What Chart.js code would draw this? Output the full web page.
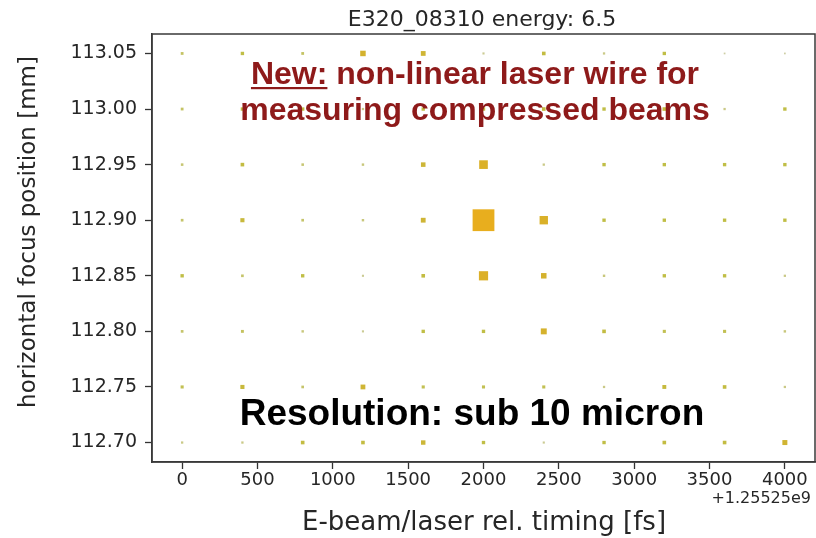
<!DOCTYPE html>
<html>
<head>
<meta charset="utf-8">
<script src="https://cdn.jsdelivr.net/npm/chart.js@4.4.1/dist/chart.umd.min.js"></script>
<style>
html,body{margin:0;padding:0;background:#fff;}
#wrap{width:816px;height:538px;position:relative;}
</style>
</head>
<body>
<div id="wrap"><canvas id="c" width="816" height="538"></canvas></div>
<script>
// ---- data ----
const titleText = "E320_08310 energy: 6.5";
const xLabel = "E-beam/laser rel. timing [fs]";
const yLabel = "horizontal focus position [mm]";
const xOffsetText = "+1.25525e9";
const xTimes = [0, 400, 800, 1200, 1600, 2000, 2400, 2800, 3200, 3600, 4000];
const yPositions = [113.05, 113.00, 112.95, 112.90, 112.85, 112.80, 112.75, 112.70];
const xTickValues = [0, 500, 1000, 1500, 2000, 2500, 3000, 3500, 4000];
const yTickValues = [112.70, 112.75, 112.80, 112.85, 112.90, 112.95, 113.00, 113.05];
// signal per row (one value per timing step), top row first
const sig_113_05 = [0.9, 1.5, 0.9, 5.0, 3.6, 0.4, 1.8, 0.5, 1.5, 0.2, 0.2];
const sig_113_00 = [0.9, 1.5, 1.5, 0.5, 1.5, 1.5, 1.8, 1.5, 1.8, 0.5, 1.5];
const sig_112_95 = [0.7, 1.8, 0.7, 0.6, 3.2, 14, 0.5, 1.5, 1.5, 1.5, 1.5];
const sig_112_90 = [0.8, 2.5, 0.8, 0.6, 3.6, 100, 13, 1.5, 1.5, 1.5, 1.5];
const sig_112_85 = [1.5, 0.8, 1.5, 0.4, 1.8, 16, 5.0, 0.6, 1.5, 1.5, 0.5];
const sig_112_80 = [0.8, 1.0, 0.6, 0.4, 1.5, 1.5, 6.0, 1.8, 1.2, 1.2, 0.6];
const sig_112_75 = [1.2, 2.5, 0.8, 3.6, 1.2, 1.2, 1.2, 0.5, 2.2, 1.8, 0.5];
const sig_112_70 = [0.5, 0.5, 1.8, 1.8, 3.0, 1.5, 0.4, 1.5, 1.8, 1.8, 4.0];
const signalRows = [sig_113_05, sig_113_00, sig_112_95, sig_112_90, sig_112_85, sig_112_80, sig_112_75, sig_112_70];
const noteLine1a = "New:";
const noteLine1b = " non-linear laser wire for";
const noteLine2 = "measuring compressed beams";
const noteResolution = "Resolution: sub 10 micron";

// ---- build points ----
const points = [];
signalRows.forEach((row, i) => {
  row.forEach((v, j) => points.push({x: xTimes[j], y: yPositions[i], v: v}));
});

const colorStops = [[0.3, [206, 206, 165]], [1.5, [192, 190, 70]], [5, [212, 178, 46]], [100, [232, 174, 30]]];
function colorFor(v) {
  const lv = Math.log(Math.max(v, 0.3));
  for (let k = 0; k < colorStops.length - 1; k++) {
    const a = colorStops[k], b = colorStops[k + 1];
    const la = Math.log(a[0]), lb = Math.log(b[0]);
    if (lv <= lb) {
      const t = Math.max(0, (lv - la) / (lb - la));
      const c = a[1].map((ca, idx) => Math.round(ca + (b[1][idx] - ca) * t));
      return `rgb(${c[0]},${c[1]},${c[2]})`;
    }
  }
  const c = colorStops[colorStops.length - 1][1];
  return `rgb(${c[0]},${c[1]},${c[2]})`;
}
function sideFor(v) { return 21 * Math.sqrt(v / 100) + 0.8; }

const DJ = "'DejaVu Sans', sans-serif";
const LIB = "'Liberation Sans', Arial, sans-serif";

const overlay = {
  id: 'overlay',
  afterDraw(chart) {
    const ctx = chart.ctx, ca = chart.chartArea;
    ctx.save();
    // frame
    ctx.strokeStyle = '#3a3a3a';
    ctx.lineWidth = 1.5;
    ctx.strokeRect(ca.left, ca.top, ca.right - ca.left, ca.bottom - ca.top);
    // title
    ctx.fillStyle = '#262626';
    ctx.font = `22px ${DJ}`;
    ctx.textAlign = 'center';
    ctx.textBaseline = 'alphabetic';
    ctx.fillText(titleText, 482, 26);
    // x offset text
    ctx.font = `16px ${DJ}`;
    ctx.textAlign = 'right';
    ctx.fillText(xOffsetText, 811, 503);
    // x label
    ctx.font = `26px ${DJ}`;
    ctx.textAlign = 'center';
    ctx.fillText(xLabel, 484, 530);
    // y label
    ctx.save();
    ctx.translate(35, 232);
    ctx.rotate(-Math.PI / 2);
    ctx.font = `23px ${DJ}`;
    ctx.textAlign = 'center';
    ctx.fillText(yLabel, 0, 0);
    ctx.restore();
    // red note
    ctx.fillStyle = 'rgb(142,26,26)';
    ctx.font = `bold 32px ${LIB}`;
    ctx.textAlign = 'left';
    const wA = ctx.measureText(noteLine1a).width;
    const wB = ctx.measureText(noteLine1b).width;
    const cx = 475;
    const x0 = cx - (wA + wB) / 2;
    ctx.fillText(noteLine1a, x0, 84);
    ctx.fillText(noteLine1b, x0 + wA, 84);
    ctx.fillRect(x0, 87, wA, 2.2);
    ctx.textAlign = 'center';
    ctx.fillText(noteLine2, cx, 120);
    // black note
    ctx.fillStyle = '#000';
    ctx.font = `bold 37px ${LIB}`;
    ctx.fillText(noteResolution, 472, 425);
    ctx.restore();
  }
};

new Chart(document.getElementById('c'), {
  type: 'scatter',
  data: {
    datasets: [{
      data: points,
      pointStyle: 'rect',
      borderWidth: 0,
      pointRadius: (c) => c.raw ? sideFor(c.raw.v) / Math.SQRT2 : 0,
      pointHoverRadius: (c) => c.raw ? sideFor(c.raw.v) / Math.SQRT2 : 0,
      backgroundColor: (c) => c.raw ? colorFor(c.raw.v) : '#000',
      borderColor: 'rgba(0,0,0,0)'
    }]
  },
  options: {
    responsive: false,
    animation: false,
    events: [],
    layout: {autoPadding: false, padding: {left: 0, right: 1, top: 34, bottom: 0}},
    plugins: {legend: {display: false}, tooltip: {enabled: false}, title: {display: false}},
    scales: {
      x: {
        type: 'linear',
        min: -200, max: 4200,
        afterFit: (s) => { s.height = 76; s.paddingLeft = 0; s.paddingRight = 0; },
        afterBuildTicks: (s) => { s.ticks = xTickValues.map(v => ({value: v})); },
        ticks: {font: {family: DJ, size: 18}, color: '#262626', padding: 1, maxRotation: 0, autoSkip: false,
          callback: (v) => String(v)},
        grid: {drawOnChartArea: false, drawTicks: true, tickLength: 7, color: '#333', tickWidth: 1.3},
        border: {display: true, color: '#3a3a3a', width: 1.5}
      },
      y: {
        type: 'linear',
        min: 112.6825, max: 113.0675,
        afterFit: (s) => { s.width = 152; s.paddingTop = 0; s.paddingBottom = 0; },
        afterBuildTicks: (s) => { s.ticks = yTickValues.map(v => ({value: v})); },
        ticks: {font: {family: DJ, size: 19}, color: '#262626', padding: 8, autoSkip: false,
          callback: (v) => Number(v).toFixed(2)},
        grid: {drawOnChartArea: false, drawTicks: true, tickLength: 7, color: '#333', tickWidth: 1.3},
        border: {display: true, color: '#3a3a3a', width: 1.5}
      }
    }
  },
  plugins: [overlay]
});
</script>
</body>
</html>
